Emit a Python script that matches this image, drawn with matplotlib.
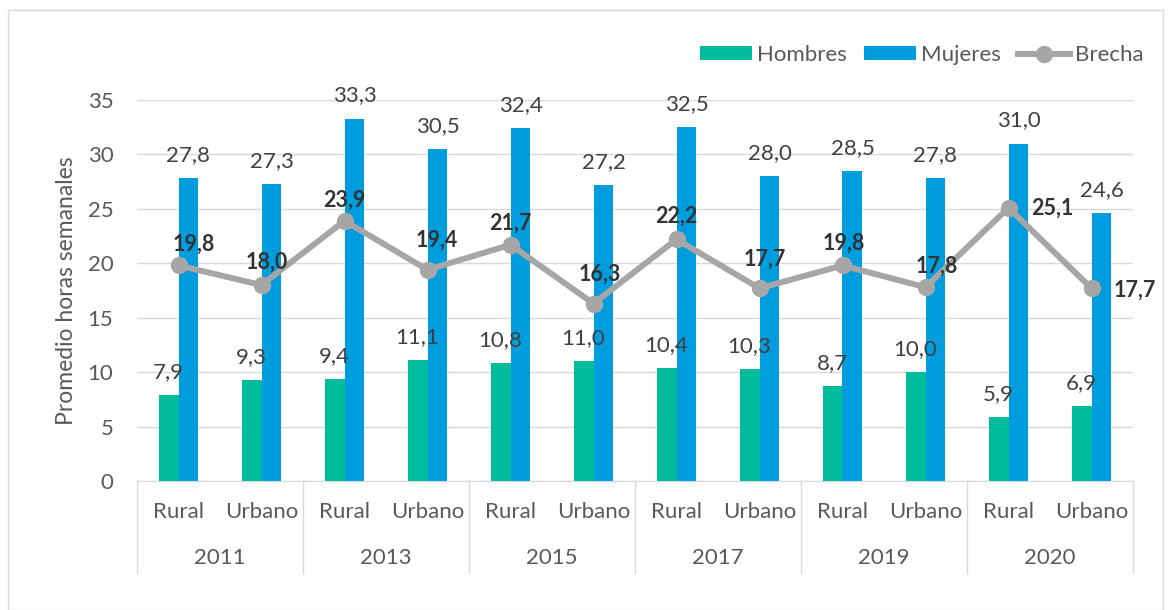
import matplotlib
matplotlib.use('Agg')
import matplotlib.pyplot as plt
from matplotlib.patches import Rectangle
import numpy as np

plt.rcParams['font.family'] = ['Lato', 'DejaVu Sans']

years = ['2011', '2013', '2015', '2017', '2019', '2020']
areas = ['Rural', 'Urbano']
hombres = [7.9, 9.3, 9.4, 11.1, 10.8, 11.0, 10.4, 10.3, 8.7, 10.0, 5.9, 6.9]
mujeres = [27.8, 27.3, 33.3, 30.5, 32.4, 27.2, 32.5, 28.0, 28.5, 27.8, 31.0, 24.6]
brecha = [19.8, 18.0, 23.9, 19.4, 21.7, 16.3, 22.2, 17.7, 19.8, 17.8, 25.1, 17.7]

# label offsets for brecha values (pixels, to label centre)
brecha_off = [(15, 22), (5, 23), (0, 21), (9, 30), (0, 22), (6, 30),
              (0, 24), (5, 30), (1, 23), (11, 22), (44, 0), (43, -1)]

c_h = '#00BC9C'
c_m = '#009DDE'
c_b = '#A6A6A6'
txt = '#595959'

fig = plt.figure(figsize=(11.74, 6.10), dpi=100)
fig.patches.append(Rectangle((8 / 1174, 0), 1155 / 1174, 600 / 610, transform=fig.transFigure,
                             fill=False, edgecolor='#D9D9D9', linewidth=1))
ax = fig.add_axes([137 / 1174, 1 - 481 / 610, 996 / 1174, 381 / 610])

x = np.arange(len(hombres))
w = 0.24
bh = ax.bar(x - w / 2, hombres, w, color=c_h, label='Hombres', zorder=2)
bm = ax.bar(x + w / 2, mujeres, w, color=c_m, label='Mujeres', zorder=2)
lb, = ax.plot(x, brecha, color=c_b, linewidth=4.3, marker='o', markersize=11.5,
              label='Brecha', zorder=3)

for xi, v in zip(x, hombres):
    ax.annotate(f'{v:.1f}'.replace('.', ','), (xi - w / 2, v), xytext=(0, 17),
                textcoords='offset pixels', ha='center', va='baseline', fontsize=16, color='#404040')
for xi, v in zip(x, mujeres):
    ax.annotate(f'{v:.1f}'.replace('.', ','), (xi + w / 2, v), xytext=(0, 17),
                textcoords='offset pixels', ha='center', va='baseline', fontsize=16, color='#404040')
for xi, v, (dx, dy) in zip(x, brecha, brecha_off):
    ax.annotate(f'{v:.1f}'.replace('.', ','), (xi, v), xytext=(dx, dy - 7),
                textcoords='offset pixels', ha='center', va='baseline', fontsize=15.5,
                fontweight='bold', color='#333333', zorder=4)

ax.set_xlim(-0.5, len(x) - 0.5)
ax.set_ylim(0, 35)
ax.set_yticks(range(0, 36, 5))
ax.yaxis.grid(True, color='#D9D9D9', linewidth=1)
ax.set_axisbelow(True)
for s in ['top', 'right', 'left']:
    ax.spines[s].set_visible(False)
ax.spines['bottom'].set_color('#D9D9D9')
ax.tick_params(axis='y', length=0, labelsize=16, labelcolor=txt, pad=17)
ax.set_xticks([])
ax.set_ylabel('Promedio horas semanales', fontsize=16.5, color=txt, labelpad=8)

trans = ax.get_xaxis_transform()
for xi in range(len(x)):
    ax.text(xi, -0.081, areas[xi % 2], transform=trans, ha='center', va='center',
            fontsize=16, color=txt)
for i, yr in enumerate(years):
    ax.text(2 * i + 0.5, -0.202, yr, transform=trans, ha='center', va='center',
            fontsize=16, color=txt)
for i in range(len(years) + 1):
    ax.plot([2 * i - 0.5, 2 * i - 0.5], [0, -0.241], transform=trans, color='#D9D9D9',
            linewidth=1, clip_on=False)

ax.legend(handles=[bh, bm, lb], loc='center right', bbox_to_anchor=(1.011, 1.118), ncol=3,
          frameon=False, fontsize=16, labelcolor=txt, handlelength=2.34, handleheight=0.6,
          handletextpad=0.25, columnspacing=0.75, borderaxespad=0, borderpad=0)

fig.savefig('out.png', dpi=100)
